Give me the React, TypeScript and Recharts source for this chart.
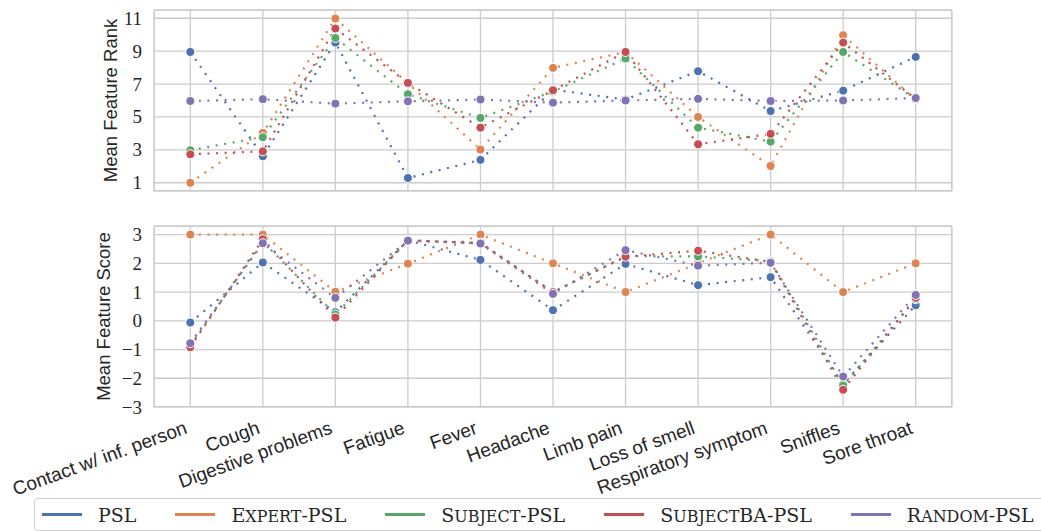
import { LineChart, Line, XAxis, YAxis, CartesianGrid } from 'recharts'

const FEATURES = [
  'Contact w/ inf. person', 'Cough', 'Digestive problems', 'Fatigue', 'Fever', 'Headache',
  'Limb pain', 'Loss of smell', 'Respiratory symptom', 'Sniffles', 'Sore throat',
]

// mean feature rank (top panel)
const RANK_PSL = [8.95, 2.61, 9.52, 1.29, 2.39, 6.66, 6.06, 7.78, 5.36, 6.6, 8.65]
const RANK_EXPERT = [1.0, 4.03, 10.98, 7.05, 3.02, 7.98, 8.95, 5.0, 2.02, 9.97, 6.05]
const RANK_SUBJECT = [2.98, 3.77, 9.8, 6.38, 4.94, 6.55, 8.55, 4.35, 3.5, 8.95, 6.1]
const RANK_SUBJECTBA = [2.73, 2.91, 10.37, 7.07, 4.35, 6.62, 8.95, 3.34, 3.97, 9.52, 6.1]
const RANK_RANDOM = [5.97, 6.08, 5.81, 5.95, 6.06, 5.87, 6.0, 6.1, 5.97, 6.0, 6.15]

// mean feature score (bottom panel)
const SCORE_PSL = [-0.06, 2.03, 0.3, 2.8, 2.12, 0.37, 1.98, 1.24, 1.52, -2.2, 0.54]
const SCORE_EXPERT = [3.0, 3.0, 1.01, 1.99, 3.0, 2.0, 1.0, 2.0, 3.0, 1.0, 2.0]
const SCORE_SUBJECT = [-0.85, 2.75, 0.22, 2.8, 2.72, 1.0, 2.25, 2.24, 2.08, -2.25, 0.75]
const SCORE_SUBJECTBA = [-0.92, 2.84, 0.11, 2.8, 2.7, 1.0, 2.23, 2.44, 2.05, -2.4, 0.8]
const SCORE_RANDOM = [-0.78, 2.7, 0.8, 2.79, 2.69, 0.94, 2.46, 1.92, 2.02, -1.94, 0.9]

const RANK_TICKS = [1, 3, 5, 7, 9, 11]
const SCORE_TICKS = [-3, -2, -1, 0, 1, 2, 3]

const SERIES = [
  { key: 'psl', name: 'PSL', color: '#4C72B0' },
  { key: 'expert', name: 'Expert-PSL', color: '#DD8452' },
  { key: 'subject', name: 'Subject-PSL', color: '#55A868' },
  { key: 'subjectba', name: 'SubjectBA-PSL', color: '#C44E52' },
  { key: 'random', name: 'Random-PSL', color: '#8172B3' },
]

const rankData = FEATURES.map((f, i) => ({
  feature: f, psl: RANK_PSL[i], expert: RANK_EXPERT[i], subject: RANK_SUBJECT[i],
  subjectba: RANK_SUBJECTBA[i], random: RANK_RANDOM[i],
}))
const scoreData = FEATURES.map((f, i) => ({
  feature: f, psl: SCORE_PSL[i], expert: SCORE_EXPERT[i], subject: SCORE_SUBJECT[i],
  subjectba: SCORE_SUBJECTBA[i], random: SCORE_RANDOM[i],
}))

const GRID = '#cccccc'
const INK = '#262626'
const W = 1041
const M = { top: 10, right: 89, bottom: 0, left: 0 }
const YW = 154
const PLOT_H = 181

const fmtNum = (v: number) => (v < 0 ? '\u2212' + Math.abs(v) : String(v))

// LaTeX-like small caps: lowercase runs become smaller capitals
function smallCaps(s: string) {
  return s.split(/([a-z]+)/).filter(p => p).map((p, i) =>
    /^[a-z]+$/.test(p)
      ? <span key={i} style={{ fontSize: '0.84em' }}>{p.toUpperCase()}</span>
      : <span key={i}>{p}</span>)
}

function yLabel(text: string, x: number) {
  return (props: any) => {
    const vb = props.viewBox
    const cy = vb.y + vb.height / 2
    return (
      <text x={x} y={cy} transform={`rotate(-90, ${x}, ${cy})`} textAnchor="middle"
        dominantBaseline="central" fill={INK} fontSize={18.5} fontFamily="Liberation Sans">
        {text}
      </text>
    )
  }
}

function NumTick(props: any) {
  const { y, payload } = props
  return (
    <text x={YW - 12} y={y} dy={6.5} textAnchor="end" fill={INK} fontSize={19}
      fontFamily="'Liberation Serif', serif">
      {fmtNum(payload.value)}
    </text>
  )
}

function FeatureTick(props: any) {
  const { x, y, payload } = props
  const ty = y + 18
  return (
    <text x={x - 2} y={ty} transform={`rotate(-20, ${x - 2}, ${ty})`} textAnchor="end"
      fill={INK} fontSize={19} fontFamily="Liberation Sans">
      {payload.value}
    </text>
  )
}

function series() {
  return SERIES.map(s => (
    <Line key={s.key} dataKey={s.key} name={s.name} stroke={s.color} strokeWidth={2.2}
      strokeDasharray="2 6.6" isAnimationActive={false}
      dot={{ r: 4.5, fill: s.color, stroke: '#ffffff', strokeWidth: 1, strokeDasharray: '' }}
      activeDot={false} />
  ))
}

const frame = (top: number): React.CSSProperties => ({
  position: 'absolute', left: YW, top, width: W - YW - M.right, height: PLOT_H,
  border: `1.3px solid ${GRID}`, boxSizing: 'border-box', pointerEvents: 'none',
})

export default function App() {
  return (
    <div style={{ position: 'absolute', left: 0, top: 0, width: W, height: 531, background: '#fff', overflow: 'hidden' }}>
      {/* top panel: rank */}
      <div style={{ position: 'absolute', left: 0, top: 0 }}>
        <LineChart width={W} height={M.top + PLOT_H + 9} data={rankData} margin={{ ...M, bottom: 9 }}>
          <CartesianGrid stroke={GRID} strokeWidth={1.3} />
          <XAxis dataKey="feature" hide interval={0} padding={{ left: 36.3, right: 36.3 }} />
          <YAxis width={YW} domain={[0.5, 11.5]} ticks={RANK_TICKS} tickLine={false} axisLine={false}
            tick={<NumTick />} label={{ content: yLabel('Mean Feature Rank', 110) }} />
          {series()}
        </LineChart>
      </div>
      <div style={frame(10)} />

      {/* bottom panel: score */}
      <div style={{ position: 'absolute', left: 0, top: 216 }}>
        <LineChart width={W} height={280} data={scoreData} margin={M}>
          <CartesianGrid stroke={GRID} strokeWidth={1.3} />
          <XAxis dataKey="feature" interval={0} height={89} padding={{ left: 36.3, right: 36.3 }}
            tickLine={false} axisLine={false} tick={<FeatureTick />} />
          <YAxis width={YW} domain={[-3, 3.3]} ticks={SCORE_TICKS} tickLine={false} axisLine={false}
            tick={<NumTick />} label={{ content: yLabel('Mean Feature Score', 103) }} />
          {series()}
        </LineChart>
      </div>
      <div style={frame(226)} />

      {/* legend */}
      <div style={{
        position: 'absolute', left: 34, top: 498, width: 1030, height: 33, boxSizing: 'border-box',
        border: '1px solid #d0d0d0', borderRadius: 4, display: 'flex', alignItems: 'center',
        paddingLeft: 7, fontFamily: 'DejaVu Serif', fontSize: 19, color: INK,
      }}>
        {SERIES.map(s => (
          <div key={s.key} style={{ display: 'flex', alignItems: 'center', marginRight: 39, whiteSpace: 'nowrap' }}>
            <span style={{ display: 'inline-block', width: 40, height: 2.5, background: s.color, marginRight: 16 }} />
            <span>{smallCaps(s.name)}</span>
          </div>
        ))}
      </div>
    </div>
  )
}
